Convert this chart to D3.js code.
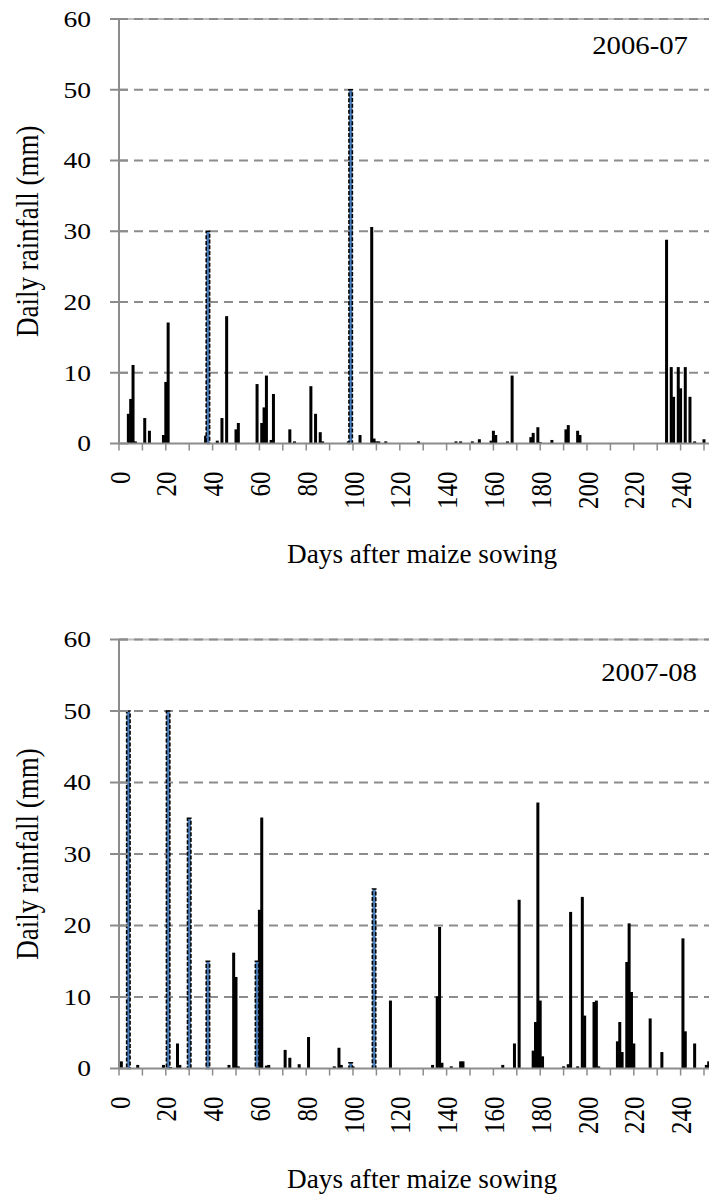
<!DOCTYPE html>
<html>
<head>
<meta charset="utf-8">
<script src="https://cdn.jsdelivr.net/npm/d3@7/dist/d3.min.js"></script>
<style>
  body { margin: 0; background: #fff; }
  svg { display: block; }
</style>
</head>
<body>
<script>
// seasons and axis labels
var seasons = ['2006-07', '2007-08'];
var yTicks = [0, 10, 20, 30, 40, 50, 60];
var xTicks = [0, 10, 20, 30, 40, 50, 60, 70, 80, 90, 100, 110, 120, 130, 140, 150, 160, 170, 180, 190, 200, 210, 220, 230, 240, 250];
var xTickLabels = [0, 20, 40, 60, 80, 100, 120, 140, 160, 180, 200, 220, 240];
var xTitle = 'Days after maize sowing';
var yTitle = 'Daily rainfall (mm)';

// [day, mm]
var rain0607 = [
  [4, 4.2], [5, 6.3], [6, 11.1], [7, 0.3], [11, 3.6], [13, 1.8],
  [19, 1.2], [20, 8.7], [21, 17.1], [37, 1.1], [42, 0.4], [44, 3.6],
  [46, 18.0], [50, 2.0], [51, 2.9], [59, 8.4], [61, 2.9], [62, 5.1],
  [63, 9.6], [65, 0.5], [66, 7.0], [73, 2.0], [75, 0.3], [82, 8.1],
  [84, 4.2], [86, 1.6], [87, 0.3], [98, 0.3], [103, 1.2], [108, 30.6],
  [109, 0.7], [110, 0.3], [111, 0.3], [114, 0.3], [128, 0.3], [144, 0.3],
  [146, 0.3], [151, 0.3], [154, 0.6], [159, 0.4], [160, 1.8], [161, 1.2],
  [166, 0.3], [168, 9.6], [176, 0.9], [177, 1.5], [179, 2.3], [180, 0.2],
  [185, 0.5], [191, 2.0], [192, 2.6], [196, 1.8], [197, 1.2], [234, 28.8],
  [236, 10.8], [237, 6.6], [239, 10.8], [240, 7.8], [242, 10.8], [244, 6.6],
  [246, 0.3], [250, 0.6]
];
var irrig0607 = [[38, 30], [99, 50]];

var rain0708 = [
  [1, 1.0], [8, 0.5], [19, 0.5], [22, 0.2], [25, 3.5], [26, 0.5],
  [47, 0.5], [49, 16.2], [50, 12.8], [51, 0.3], [60, 22.2], [61, 35.1],
  [63, 0.4], [64, 0.5], [71, 2.6], [73, 1.5], [77, 0.6], [81, 4.4],
  [92, 0.3], [94, 2.9], [95, 0.5], [100, 0.3], [116, 9.5], [134, 0.5],
  [136, 10.1], [137, 19.8], [138, 0.8], [142, 0.3], [146, 1.0], [147, 1.0],
  [164, 0.5], [169, 3.5], [171, 23.6], [177, 2.5], [178, 6.5], [179, 37.2],
  [180, 9.5], [181, 1.7], [190, 0.3], [192, 0.6], [193, 21.9], [196, 0.3],
  [198, 24.0], [199, 7.4], [203, 9.3], [204, 9.5], [205, 0.3], [213, 3.8],
  [214, 6.5], [215, 2.3], [217, 14.9], [218, 20.3], [219, 10.7], [220, 3.5],
  [227, 7.0], [232, 2.3], [241, 18.2], [242, 5.2], [246, 3.5], [251, 0.5],
  [252, 1.0]
];
var irrig0708 = [[4, 50], [21, 50], [30, 35], [38, 15], [59, 15], [99, 0.8], [109, 25.1]];

var width = 709,
    height = 1194,
    left = 119,
    barWidth = 3,
    font = '"Liberation Serif", "DejaVu Serif", serif',
    sx = 1.15;   // glyphs in the picture are a bit wider than tall

var panels = [
  {title: seasons[0], rain: rain0607, irrig: irrig0607, top: 19, bottom: 443.5, titleX: 688, titleY: 54},
  {title: seasons[1], rain: rain0708, irrig: irrig0708, top: 639.5, bottom: 1068.5, titleX: 697, titleY: 681}
];

var x = d3.scaleLinear().domain([0, 250]).range([left, 704]);

var svg = d3.select('body')
  .append('svg')
    .attr('width', width)
    .attr('height', height)
    .attr('font-family', font);

panels.forEach(function(p) {
  var y = d3.scaleLinear().domain([0, 60]).range([p.bottom, p.top]);
  var g = svg.append('g');

  // top border line under the 60 gridline
  g.append('line')
    .attr('x1', left).attr('x2', width)
    .attr('y1', y(60)).attr('y2', y(60))
    .attr('stroke', '#bdbdbd').attr('stroke-width', 2);

  // dashed gridlines
  g.selectAll('.grid')
    .data(yTicks.slice(1))
    .enter()
  .append('line')
    .attr('class', 'grid')
    .attr('x1', left).attr('x2', width)
    .attr('y1', function(d) { return y(d); })
    .attr('y2', function(d) { return y(d); })
    .attr('stroke', '#8c8c8c')
    .attr('stroke-width', 2)
    .attr('stroke-dasharray', '9,6');

  // rain bars
  g.selectAll('.rain')
    .data(p.rain)
    .enter()
  .append('rect')
    .attr('class', 'rain')
    .attr('x', function(d) { return x(d[0]) - barWidth / 2; })
    .attr('y', function(d) { return y(d[1]); })
    .attr('width', barWidth)
    .attr('height', function(d) { return y(0) - y(d[1]); })
    .attr('fill', '#000');

  // irrigation bars, dashed outline
  g.selectAll('.irrig')
    .data(p.irrig)
    .enter()
  .append('rect')
    .attr('class', 'irrig')
    .attr('x', function(d) { return x(d[0]) - 1.7; })
    .attr('y', function(d) { return y(d[1]); })
    .attr('width', 3.4)
    .attr('height', function(d) { return y(0) - y(d[1]); })
    .attr('fill', '#4a7ebb')
    .attr('stroke', '#000')
    .attr('stroke-width', 1.6)
    .attr('stroke-dasharray', '4,1.8');

  // y axis with crossing ticks
  g.append('line')
    .attr('x1', left).attr('x2', left)
    .attr('y1', y(0)).attr('y2', y(60))
    .attr('stroke', '#8c8c8c').attr('stroke-width', 2);

  g.selectAll('.ytick')
    .data(yTicks)
    .enter()
  .append('line')
    .attr('x1', left - 9).attr('x2', left + 9)
    .attr('y1', function(d) { return y(d); })
    .attr('y2', function(d) { return y(d); })
    .attr('stroke', '#8c8c8c').attr('stroke-width', 2);

  g.selectAll('.ylab')
    .data(yTicks)
    .enter()
  .append('text')
    .attr('transform', function(d) { return 'translate(91,' + y(d) + ') scale(' + sx + ',1)'; })
    .attr('text-anchor', 'end')
    .attr('dominant-baseline', 'central')
    .attr('font-size', 24)
    .text(function(d) { return d; });

  // x axis
  g.append('line')
    .attr('x1', left).attr('x2', width)
    .attr('y1', y(0)).attr('y2', y(0))
    .attr('stroke', '#8c8c8c').attr('stroke-width', 2);

  g.selectAll('.xtick')
    .data(xTicks)
    .enter()
  .append('line')
    .attr('x1', function(d) { return x(d); })
    .attr('x2', function(d) { return x(d); })
    .attr('y1', y(0)).attr('y2', y(0) + 7)
    .attr('stroke', '#8c8c8c').attr('stroke-width', 1.5);

  g.selectAll('.xlab')
    .data(xTickLabels)
    .enter()
  .append('text')
    .attr('transform', function(d) {
      return 'translate(' + (x(d) + 1) + ',' + (y(0) + 28) + ') scale(' + sx + ',1) rotate(-90)';
    })
    .attr('text-anchor', 'end')
    .attr('dominant-baseline', 'central')
    .attr('font-size', 25)
    .text(function(d) { return d; });

  // titles
  g.append('text')
    .attr('transform', 'translate(' + p.titleX + ',' + p.titleY + ') scale(' + sx + ',1)')
    .attr('text-anchor', 'end')
    .attr('font-size', 25)
    .text(p.title);

  g.append('text')
    .attr('x', 422)
    .attr('y', y(0) + 119)
    .attr('text-anchor', 'middle')
    .attr('textLength', 270)
    .attr('lengthAdjust', 'spacingAndGlyphs')
    .attr('font-size', 27)
    .text(xTitle);

  g.append('text')
    .attr('transform', 'translate(27,' + (p.top + p.bottom) / 2 + ') scale(' + sx + ',1) rotate(-90)')
    .attr('text-anchor', 'middle')
    .attr('dominant-baseline', 'central')
    .attr('font-size', 27)
    .text(yTitle);
});
</script>
</body>
</html>
